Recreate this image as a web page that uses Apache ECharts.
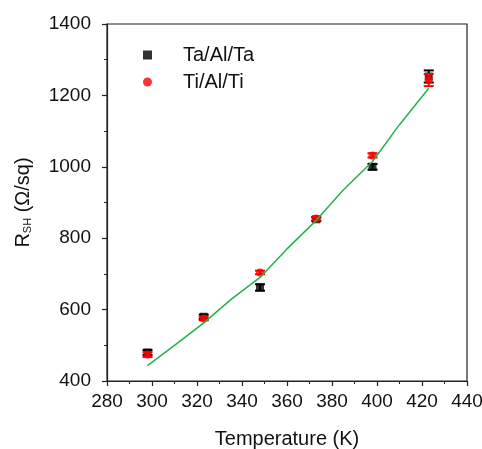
<!DOCTYPE html>
<html><head><meta charset="utf-8">
<script src="https://cdn.jsdelivr.net/npm/echarts@6/dist/echarts.min.js"></script>
<style>html,body{margin:0;padding:0;background:#fff}#c{width:482px;height:449px}</style>
</head><body><div id="c"></div>
<script>
const temps = [298, 323, 348, 373, 398, 423];
const taVals = [480, 580, 662, 853, 1000, 1253];
const taErr = [7, 6, 9, 5, 8, 17];
const tiVals = [474, 575, 704, 855, 1032, 1243];
const tiErr = [7, 5, 5, 5, 6, 17];
const fitT = [298, 310, 323, 335, 348, 360, 373, 385, 398, 410, 423];
const fitR = [443, 500, 563, 628, 690, 770, 850, 935, 1015, 1118, 1220];
const xTicks = [280, 300, 320, 340, 360, 380, 400, 420, 440];
const yTicks = [400, 600, 800, 1000, 1200, 1400];

const FONT = 'Liberation Sans, Arial, sans-serif';
const chart = echarts.init(document.getElementById('c'), null, {renderer: 'canvas'});

function errSeries(name, vals, errs, color, z) {
  return {
    type: 'custom', name: name + '_err', z: z, silent: true,
    data: temps.map((t, i) => [t, vals[i] - errs[i], vals[i] + errs[i]]),
    renderItem: function (params, api) {
      const lo = api.coord([api.value(0), api.value(1)]);
      const hi = api.coord([api.value(0), api.value(2)]);
      const w = 5;
      const st = {stroke: color, lineWidth: 2};
      return {type: 'group', children: [
        {type: 'line', shape: {x1: lo[0], y1: lo[1], x2: hi[0], y2: hi[1]}, style: st},
        {type: 'line', shape: {x1: lo[0]-w, y1: lo[1], x2: lo[0]+w, y2: lo[1]}, style: st},
        {type: 'line', shape: {x1: hi[0]-w, y1: hi[1], x2: hi[0]+w, y2: hi[1]}, style: st}
      ]};
    }
  };
}

chart.setOption({
  animation: false,
  backgroundColor: '#fff',
  grid: {left: 107, top: 24, right: 15, bottom: 68, outerBoundsMode: 'none', containLabel: false,
    show: true, borderColor: '#222', borderWidth: 1.2, backgroundColor: 'transparent'},
  legend: {
    left: 138, top: 40, orient: 'vertical', itemGap: 7,
    itemWidth: 9, itemHeight: 9,
    data: [{name: 'Ta/Al/Ta', icon: 'rect'}, {name: 'Ti/Al/Ti', icon: 'circle'}],
    textStyle: {fontFamily: FONT, fontSize: 20, color: '#111', padding: [0, 0, 0, 26], lineHeight: 20}
  },
  xAxis: {
    type: 'value', min: 280, max: 440, interval: 20,
    name: 'Temperature (K)', nameLocation: 'middle', nameGap: 48,
    nameTextStyle: {fontFamily: FONT, fontSize: 20, color: '#111'},
    axisLine: {show: true, onZero: false, lineStyle: {color: '#222', width: 1.2}},
    axisTick: {show: true, inside: false, length: 5, lineStyle: {color: '#222', width: 1.2}},
    minorTick: {show: true, splitNumber: 2, length: 3, lineStyle: {color: '#222', width: 1}},
    splitLine: {show: false},
    axisLabel: {fontFamily: FONT, fontSize: 19, color: '#111', margin: 11,
      formatter: v => xTicks.includes(v) ? String(v) : ''}
  },
  yAxis: {
    type: 'value', min: 400, max: 1400, interval: 200,
    name: 'R{sub|SH} (Ω/sq)', nameLocation: 'middle', nameGap: 74, nameRotate: 90,
    nameTextStyle: {fontFamily: FONT, fontSize: 20, color: '#111',
      rich: {sub: {fontFamily: FONT, fontSize: 11, color: '#111', verticalAlign: 'bottom', padding: [9, 0, 0, 0]}}},
    axisLine: {show: true, onZero: false, lineStyle: {color: '#222', width: 1.2}},
    axisTick: {show: true, inside: false, length: 5, lineStyle: {color: '#222', width: 1.2}},
    minorTick: {show: true, splitNumber: 2, length: 3, lineStyle: {color: '#222', width: 1}},
    splitLine: {show: false},
    axisLabel: {fontFamily: FONT, fontSize: 19, color: '#111', margin: 16,
      formatter: v => yTicks.includes(v) ? String(v) : ''}
  },
  series: [
    errSeries('Ta', taVals, taErr, '#000', 2),
    {type: 'scatter', name: 'Ta/Al/Ta', symbol: 'rect', symbolSize: 8, z: 3,
      itemStyle: {color: '#000'}, data: temps.map((t, i) => [t, taVals[i]])},
    errSeries('Ti', tiVals, tiErr, '#ff0000', 4),
    {type: 'scatter', name: 'Ti/Al/Ti', symbol: 'circle', symbolSize: 8, z: 5,
      itemStyle: {color: '#ff0000'}, data: temps.map((t, i) => [t, tiVals[i]])},
    {type: 'line', name: 'fit', z: 6, showSymbol: false, smooth: false,
      lineStyle: {color: '#22b14c', width: 1.5},
      data: fitT.map((t, i) => [t, fitR[i]])}
  ]
});
</script></body></html>
